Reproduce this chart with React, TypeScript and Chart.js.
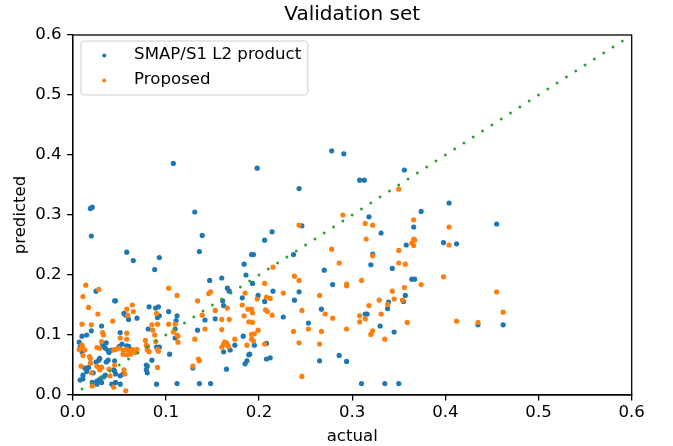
import React, { useEffect, useRef } from "react";
import { Chart, registerables } from "chart.js";

Chart.register(...registerables);

const FONT = '"DejaVu Sans", "Liberation Sans", sans-serif';

const chartTitle = "Validation set";
const xAxisTitle = "actual";
const yAxisTitle = "predicted";
const axisTicks = [0, 0.1, 0.2, 0.3, 0.4, 0.5, 0.6];
const seriesLabels = ["SMAP/S1 L2 product", "Proposed"];
const seriesColors = ["#1f77b4", "#ff7f0e"];
const refColor = "#2ca02c";
const refLine: [number, number][] = [[0, 0], [0.59, 0.59]];

// [actual, predicted]
const smapPoints: [number, number][] = [
  [0.108, 0.386], [0.019, 0.311], [0.021, 0.313], [0.02, 0.265], [0.058, 0.238], [0.065, 0.224],
  [0.093, 0.229], [0.088, 0.209], [0.198, 0.378], [0.243, 0.344], [0.131, 0.305], [0.139, 0.266],
  [0.214, 0.272], [0.206, 0.258], [0.136, 0.239], [0.192, 0.234], [0.194, 0.234], [0.237, 0.234],
  [0.184, 0.218], [0.278, 0.407], [0.291, 0.402], [0.356, 0.375], [0.308, 0.358], [0.313, 0.358],
  [0.404, 0.32], [0.374, 0.306], [0.318, 0.297], [0.246, 0.282], [0.366, 0.28], [0.331, 0.27],
  [0.398, 0.254], [0.412, 0.252], [0.358, 0.25], [0.322, 0.235], [0.32, 0.217], [0.27, 0.208],
  [0.343, 0.211], [0.455, 0.285], [0.462, 0.117], [0.435, 0.117], [0.279, 0.184], [0.364, 0.193],
  [0.367, 0.193], [0.243, 0.172], [0.357, 0.166], [0.238, 0.158], [0.355, 0.156], [0.339, 0.155],
  [0.338, 0.144], [0.267, 0.143], [0.314, 0.135], [0.316, 0.135], [0.253, 0.12], [0.33, 0.115],
  [0.345, 0.105], [0.286, 0.066], [0.265, 0.057], [0.294, 0.056], [0.31, 0.019], [0.335, 0.019],
  [0.35, 0.019], [0.16, 0.195], [0.186, 0.2], [0.147, 0.191], [0.193, 0.186], [0.166, 0.178],
  [0.168, 0.173], [0.199, 0.166], [0.182, 0.162], [0.215, 0.173], [0.206, 0.156], [0.161, 0.157],
  [0.162, 0.149], [0.226, 0.13], [0.153, 0.127], [0.142, 0.125], [0.134, 0.108], [0.183, 0.098],
  [0.174, 0.083], [0.195, 0.083], [0.208, 0.086], [0.169, 0.075], [0.162, 0.072], [0.19, 0.068],
  [0.189, 0.067], [0.208, 0.06], [0.212, 0.062], [0.187, 0.057], [0.185, 0.052], [0.129, 0.045],
  [0.165, 0.043], [0.112, 0.019], [0.136, 0.019], [0.148, 0.019], [0.025, 0.173], [0.045, 0.157],
  [0.046, 0.157], [0.055, 0.136], [0.057, 0.133], [0.082, 0.147], [0.089, 0.145], [0.092, 0.147],
  [0.103, 0.139], [0.06, 0.126], [0.069, 0.128], [0.093, 0.132], [0.091, 0.129], [0.112, 0.132],
  [0.111, 0.124], [0.031, 0.115], [0.02, 0.107], [0.051, 0.104], [0.081, 0.11], [0.11, 0.11],
  [0.01, 0.098], [0.015, 0.1], [0.007, 0.088], [0.11, 0.095], [0.08, 0.081], [0.09, 0.08],
  [0.093, 0.08], [0.033, 0.081], [0.035, 0.078], [0.053, 0.085], [0.05, 0.081], [0.058, 0.082],
  [0.06, 0.081], [0.038, 0.074], [0.008, 0.08], [0.01, 0.072], [0.032, 0.086], [0.036, 0.087],
  [0.039, 0.071], [0.042, 0.075], [0.029, 0.061], [0.028, 0.058], [0.025, 0.055], [0.038, 0.058],
  [0.036, 0.055], [0.013, 0.045], [0.017, 0.046], [0.045, 0.057], [0.044, 0.042], [0.045, 0.04],
  [0.046, 0.035], [0.035, 0.033], [0.033, 0.03], [0.029, 0.026], [0.026, 0.023], [0.031, 0.021],
  [0.021, 0.021], [0.026, 0.018], [0.008, 0.025], [0.011, 0.027], [0.015, 0.039], [0.011, 0.033],
  [0.022, 0.037], [0.042, 0.018], [0.046, 0.021], [0.051, 0.018], [0.09, 0.018], [0.051, 0.032],
  [0.054, 0.035], [0.08, 0.048], [0.079, 0.042], [0.08, 0.037], [0.085, 0.058], [0.079, 0.05],
  [0.104, 0.068],
];

const proposedPoints: [number, number][] = [
  [0.243, 0.283], [0.215, 0.213], [0.35, 0.343], [0.29, 0.3], [0.366, 0.292], [0.314, 0.286],
  [0.322, 0.283], [0.404, 0.28], [0.315, 0.26], [0.366, 0.26], [0.367, 0.258], [0.364, 0.253],
  [0.404, 0.25], [0.366, 0.249], [0.278, 0.243], [0.35, 0.241], [0.322, 0.232], [0.286, 0.22],
  [0.35, 0.22], [0.357, 0.218], [0.455, 0.172], [0.462, 0.138], [0.435, 0.121], [0.238, 0.198],
  [0.398, 0.197], [0.243, 0.191], [0.31, 0.191], [0.294, 0.185], [0.294, 0.182], [0.374, 0.184],
  [0.356, 0.179], [0.343, 0.173], [0.265, 0.166], [0.345, 0.16], [0.354, 0.158], [0.329, 0.158],
  [0.338, 0.151], [0.318, 0.149], [0.246, 0.141], [0.271, 0.135], [0.331, 0.135], [0.308, 0.132],
  [0.279, 0.128], [0.314, 0.127], [0.308, 0.122], [0.412, 0.123], [0.359, 0.121], [0.253, 0.11],
  [0.237, 0.106], [0.267, 0.106], [0.294, 0.11], [0.322, 0.107], [0.32, 0.101], [0.335, 0.093],
  [0.243, 0.087], [0.265, 0.085], [0.246, 0.031], [0.206, 0.186], [0.148, 0.172], [0.146, 0.169],
  [0.185, 0.17], [0.112, 0.166], [0.208, 0.163], [0.212, 0.161], [0.198, 0.16], [0.226, 0.17],
  [0.134, 0.157], [0.182, 0.15], [0.166, 0.145], [0.188, 0.143], [0.192, 0.143], [0.153, 0.141],
  [0.193, 0.137], [0.207, 0.142], [0.209, 0.139], [0.139, 0.133], [0.184, 0.132], [0.214, 0.133],
  [0.16, 0.126], [0.168, 0.126], [0.189, 0.122], [0.193, 0.121], [0.11, 0.118], [0.142, 0.11],
  [0.16, 0.109], [0.199, 0.108], [0.108, 0.105], [0.112, 0.1], [0.113, 0.098], [0.192, 0.101],
  [0.195, 0.102], [0.113, 0.088], [0.131, 0.093], [0.174, 0.093], [0.192, 0.093], [0.194, 0.09],
  [0.163, 0.088], [0.165, 0.087], [0.162, 0.085], [0.166, 0.083], [0.206, 0.085], [0.187, 0.083],
  [0.16, 0.08], [0.167, 0.081], [0.135, 0.06], [0.136, 0.057], [0.129, 0.048], [0.014, 0.183],
  [0.011, 0.164], [0.028, 0.176], [0.103, 0.178], [0.017, 0.146], [0.064, 0.15], [0.065, 0.139],
  [0.058, 0.143], [0.027, 0.135], [0.09, 0.136], [0.059, 0.133], [0.043, 0.123], [0.01, 0.118],
  [0.02, 0.117], [0.103, 0.118], [0.032, 0.104], [0.033, 0.1], [0.058, 0.103], [0.085, 0.117],
  [0.091, 0.118], [0.086, 0.108], [0.088, 0.1], [0.089, 0.089], [0.031, 0.089], [0.051, 0.095],
  [0.058, 0.093], [0.01, 0.083], [0.007, 0.076], [0.078, 0.091], [0.079, 0.083], [0.08, 0.076],
  [0.082, 0.072], [0.091, 0.076], [0.092, 0.073], [0.026, 0.079], [0.029, 0.078], [0.011, 0.078],
  [0.013, 0.075], [0.011, 0.066], [0.044, 0.075], [0.046, 0.076], [0.049, 0.078], [0.054, 0.075],
  [0.058, 0.076], [0.061, 0.072], [0.054, 0.068], [0.058, 0.067], [0.062, 0.068], [0.064, 0.076],
  [0.069, 0.076], [0.067, 0.071], [0.018, 0.064], [0.019, 0.061], [0.026, 0.048], [0.028, 0.046],
  [0.029, 0.042], [0.031, 0.046], [0.009, 0.048], [0.019, 0.053], [0.02, 0.037], [0.039, 0.043],
  [0.045, 0.05], [0.04, 0.032], [0.055, 0.042], [0.056, 0.035], [0.021, 0.015], [0.044, 0.013],
  [0.057, 0.007], [0.091, 0.046],
];

const toXY = (pts: [number, number][]) => pts.map(([x, y]) => ({ x, y }));

const framePlugin = {
  id: "mplFrame",
  afterDatasetsDraw(chart: any) {
    const { ctx, chartArea: a } = chart;
    ctx.save();
    ctx.strokeStyle = "#000";
    ctx.lineWidth = 1.3;
    ctx.strokeRect(a.left, a.top, a.right - a.left, a.bottom - a.top);
    ctx.restore();
  },
};

const legendPlugin = {
  id: "mplLegend",
  afterDraw(chart: any) {
    const { ctx, chartArea: a } = chart;
    const fs = 16.6;
    const pad = 0.4 * fs;
    const handle = 2 * fs;
    const textPad = 0.8 * fs;
    const rowStep = 25;
    ctx.save();
    ctx.font = `${fs}px ${FONT}`;
    const tw = Math.max(...seriesLabels.map((t) => ctx.measureText(t).width));
    const x0 = a.left + 8.3;
    const y0 = a.top + 6;
    const w = pad * 2 + handle + textPad + tw;
    const h = 54;
    const r = 0.2 * fs;
    ctx.beginPath();
    ctx.moveTo(x0 + r, y0);
    ctx.lineTo(x0 + w - r, y0);
    ctx.arcTo(x0 + w, y0, x0 + w, y0 + r, r);
    ctx.lineTo(x0 + w, y0 + h - r);
    ctx.arcTo(x0 + w, y0 + h, x0 + w - r, y0 + h, r);
    ctx.lineTo(x0 + r, y0 + h);
    ctx.arcTo(x0, y0 + h, x0, y0 + h - r, r);
    ctx.lineTo(x0, y0 + r);
    ctx.arcTo(x0, y0, x0 + r, y0, r);
    ctx.closePath();
    ctx.fillStyle = "rgba(255,255,255,0.8)";
    ctx.fill();
    ctx.strokeStyle = "#cccccc";
    ctx.lineWidth = 1;
    ctx.stroke();
    seriesLabels.forEach((label, i) => {
      const cy = y0 + 13.5 + i * rowStep;
      ctx.beginPath();
      ctx.fillStyle = seriesColors[i];
      ctx.arc(x0 + pad + handle / 2, cy + 1, 2, 0, Math.PI * 2);
      ctx.fill();
      ctx.fillStyle = "#000";
      ctx.textAlign = "left";
      ctx.textBaseline = "middle";
      ctx.fillText(label, x0 + pad + handle + textPad, cy);
    });
    ctx.restore();
  },
};

export default function App() {
  const canvasRef = useRef<HTMLCanvasElement | null>(null);

  useEffect(() => {
    const canvas = canvasRef.current;
    if (!canvas) return;
    const tickFont = { family: FONT, size: 16.6 };
    const chart = new Chart(canvas, {
      type: "scatter",
      data: {
        datasets: [
          {
            label: "",
            type: "line",
            data: toXY(refLine),
            borderColor: refColor,
            borderWidth: 2.8,
            borderDash: [0.01, 11.07],
            borderCapStyle: "round",
            pointRadius: 0,
            showLine: true,
            fill: false,
            order: 0,
          } as any,
          {
            label: seriesLabels[1],
            data: toXY(proposedPoints),
            backgroundColor: seriesColors[1],
            borderWidth: 0,
            pointRadius: 2.6,
            order: 1,
          },
          {
            label: seriesLabels[0],
            data: toXY(smapPoints),
            backgroundColor: seriesColors[0],
            borderWidth: 0,
            pointRadius: 2.6,
            order: 2,
          },
        ],
      },
      options: {
        animation: false,
        responsive: false,
        maintainAspectRatio: false,
        devicePixelRatio: 1,
        layout: { padding: { left: 0, right: 41.3, top: 0, bottom: 0 } },
        plugins: {
          legend: { display: false },
          tooltip: { enabled: false },
          title: {
            display: true,
            text: chartTitle,
            fullSize: false,
            color: "#000",
            font: { family: FONT, size: 20, weight: "normal", lineHeight: 1.2 },
            padding: { top: 3, bottom: 8 },
          },
        },
        scales: {
          x: {
            type: "linear",
            min: 0,
            max: 0.6,
            afterBuildTicks: (s: any) => {
              s.ticks = axisTicks.map((v) => ({ value: v }));
            },
            afterFit: (s: any) => {
              s.height = 51;
            },
            ticks: {
              callback: (v: any) => Number(v).toFixed(1),
              font: tickFont,
              color: "#000",
              padding: 2,
              maxRotation: 0,
              autoSkip: false,
            },
            grid: { drawOnChartArea: false, drawTicks: true, tickLength: 5.6, color: "#000", lineWidth: 1.3 },
            border: { display: true, color: "#000", width: 1.3 },
            title: {
              display: true,
              text: xAxisTitle,
              color: "#000",
              font: { family: FONT, size: 16.6, lineHeight: 1.1 },
              padding: { top: 0, bottom: 0 },
            },
          },
          y: {
            type: "linear",
            min: 0,
            max: 0.6,
            afterBuildTicks: (s: any) => {
              s.ticks = axisTicks.map((v) => ({ value: v }));
            },
            afterFit: (s: any) => {
              s.width = 72.7;
            },
            ticks: {
              callback: (v: any) => Number(v).toFixed(1),
              font: tickFont,
              color: "#000",
              padding: 5.5,
              autoSkip: false,
            },
            grid: { drawOnChartArea: false, drawTicks: true, tickLength: 5.6, color: "#000", lineWidth: 1.3 },
            border: { display: true, color: "#000", width: 1.3 },
            title: {
              display: true,
              text: yAxisTitle,
              color: "#000",
              font: { family: FONT, size: 16.6, lineHeight: 1.1 },
              padding: { top: 12, bottom: 0 },
            },
          },
        },
      } as any,
      plugins: [framePlugin, legendPlugin],
    });
    return () => chart.destroy();
  }, []);

  return (
    <div style={{ position: "fixed", left: 0, top: 0, width: 673, height: 446, background: "#fff" }}>
      <canvas ref={canvasRef} width={673} height={446} style={{ display: "block", width: 673, height: 446 }} />
    </div>
  );
}
